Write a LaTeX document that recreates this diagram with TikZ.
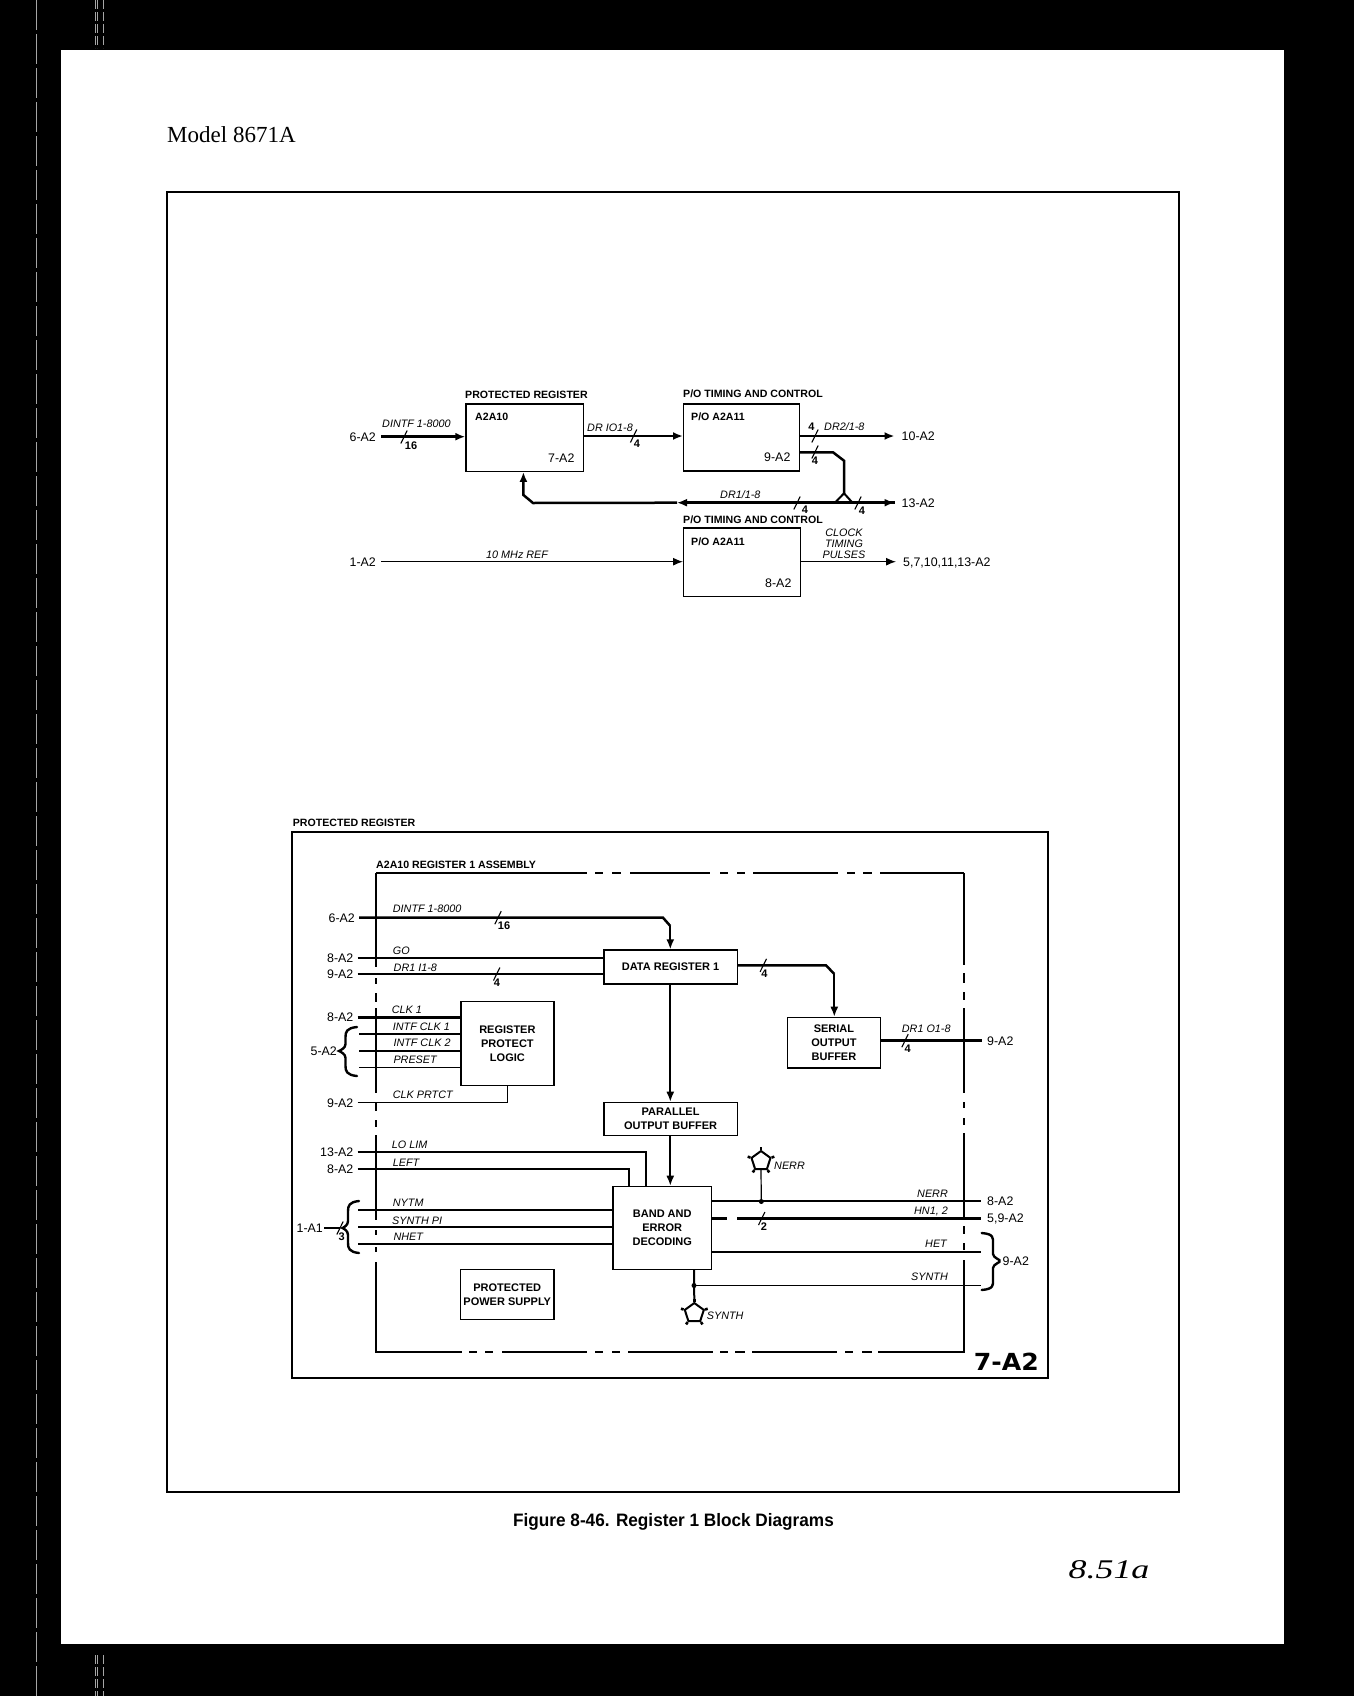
\documentclass[tikz,border=0pt]{standalone}
\usepackage{fontspec}
\setmainfont{Liberation Sans}
\newfontfamily\serifmodel{Liberation Serif}
\newfontfamily\heavyfont{DejaVu Sans}
\usetikzlibrary{arrows.meta,calc,shapes.geometric}
\newcommand{\slashmark}[2]{\draw[line width=1.1pt] (#1-3.2,#2+6.5) -- (#1+3.2,#2-6.5);}
\newcommand{\lbrc}[6]{% right-x, body-x, tip-x, top, mid, bottom
  \draw[line width=2.4pt,line cap=round] (#1,#4) .. controls (#2+1,#4+1) and (#2,#4+5) .. (#2,#4+10)
    -- (#2,#5-7) .. controls (#2,#5-3) and (#3+2,#5-1) .. (#3,#5)
    .. controls (#3+2,#5+1) and (#2,#5+3) .. (#2,#5+7)
    -- (#2,#6-10) .. controls (#2,#6-5) and (#2+1,#6-1) .. (#1,#6);}
\tikzset{
  x=1pt,y=-1pt,
  boxa/.style={draw,line width=1.2pt,fill=white,inner sep=0pt,align=center,anchor=north west,
    font=\fontsize{11}{14}\selectfont\bfseries},
  tagl/.style={inner sep=0pt,text height=8.6pt,text depth=0pt,font=\fontsize{12.4}{12}\selectfont},
  titlab/.style={inner sep=0pt,anchor=west,font=\fontsize{10.6}{11}\selectfont\bfseries},
  lab/.style={inner sep=0pt,anchor=west,text height=7.6pt,text depth=0pt,font=\fontsize{10.8}{11}\selectfont\itshape},
  num/.style={inner sep=0pt,font=\fontsize{11}{11}\selectfont\bfseries},
  wthick/.style={line width=2.5pt},
  wmed/.style={line width=1.8pt},
  wthin/.style={line width=1.2pt},
  tipa/.style={-{Latex[length=10pt,width=8pt]}},
  penta/.style={draw,regular polygon,regular polygon sides=5,minimum size=20pt,inner sep=0pt,line width=2pt},
  dota/.style={circle,fill=black,inner sep=0pt,minimum size=5pt},
}
\begin{document}
\begin{tikzpicture}
\useasboundingbox (0,0) rectangle (1354,1696);
\fill[black] (0,0) rectangle (1354,1696);
\fill[white] (60.5,50.5) rectangle (1283.5,1643.5);
% scan streaks in the margins
\draw[gray!70,line width=.4pt,dash pattern=on 30pt off 4pt] (36,0) -- (36,1696);
\foreach \sx in {95,97,103} {
  \draw[gray!70,line width=.4pt,dash pattern=on 9pt off 3pt] (\sx,0) -- (\sx,48);
  \draw[gray!70,line width=.4pt,dash pattern=on 9pt off 3pt] (\sx,1655) -- (\sx,1696);
}
% page text
\node[inner sep=0pt,anchor=base west,font=\fontsize{23}{23}\selectfont\serifmodel] (model) at (167,143) {Model 8671A};
\node[inner sep=0pt,anchor=center,font=\fontsize{18}{18}\selectfont\bfseries] (caption) at (673.5,1522) {\scalebox{.955}[1]{Figure 8-46. Register 1 Block Diagrams}};
\node[inner sep=0pt,anchor=center,font=\fontsize{27}{27}\selectfont\serifmodel\itshape] (hand) at (1109,1570) {\scalebox{1.33}[1]{8.51a}};
% outer frames
\draw[line width=2pt] (166.5,192) rectangle (1179,1492);
\draw[line width=1.7pt] (292.3,832) rectangle (1047.7,1378);

%%%%%%%%%%%%%%% upper diagram
\node[boxa,minimum width=117.7pt,minimum height=67.4pt] (pr) at (465.3,403.3) {};
\node[boxa,minimum width=116pt,minimum height=67pt] (ta) at (683,403.3) {};
\node[boxa,minimum width=117pt,minimum height=68.7pt] (tb) at (683,527.3) {};
\node[titlab] (t1) at (465,395.3) {PROTECTED REGISTER};
\node[titlab] (t2) at (683,394) {P/O TIMING AND CONTROL};
\node[titlab] (t3) at (683,520) {P/O TIMING AND CONTROL};
\node[titlab] (i1) at (475,416.7) {A2A10};
\node[titlab] (i2) at (691,416.7) {P/O A2A11};
\node[titlab] (i3) at (691,541.7) {P/O A2A11};
\node[tagl,anchor=west] (i4) at (548,457.7) {7-A2};
\node[tagl,anchor=west] (i5) at (764,457.3) {9-A2};
\node[tagl,anchor=west] (i6) at (765,583.3) {8-A2};

\node[tagl,anchor=east] (u6) at (376,436.7) {6-A2};
\node[tagl,anchor=east] (u1) at (376,561.7) {1-A2};
\node[tagl,anchor=west] (u10) at (901.5,436) {10-A2};
\node[tagl,anchor=west] (u13) at (901.5,502.7) {13-A2};
\node[tagl,anchor=west] (u5) at (903,561.7) {5,7,10,11,13-A2};

\draw[wthick,tipa] ([xshift=5pt]u6.east) -- (u6.east -| pr.west);
\draw[wthick,tipa] (pr.east |- u10) -- (u10.west -| ta.west);
\draw[wthick,tipa] (ta.east |- u10) -- ([xshift=-7pt]u10.west);
\coordinate (j0) at (799,452.3);
\coordinate (j1) at (833,452.3);
\coordinate (j2) at (844,460.7);
\coordinate (j3) at (844,493.3);
\coordinate (j4) at (835,502.7);
\coordinate (j5) at (852.5,502.7);
\coordinate (j6) at (533,503);
\coordinate (j7) at (523.4,495);
\draw[wthick] (j0) -- (j1) -- (j2) -- (j3);
\draw[line width=2pt] (j4) -- (j3) -- (j5);
\draw[wthick,tipa] ([xshift=-7pt]u13.west) -- (677,502.7);
\draw[wthick,tipa] (j5) -- ([xshift=-7pt]u13.west);
\draw[wthick,tipa] (677,502.7) -- (j6) -- (j7) -- (j7 |- pr.south);
\draw[wthin,tipa] ([xshift=5pt]u1.east) -- (u1.east -| tb.west);
\draw[wthin,tipa] (tb.east |- u5) -- ([xshift=-7pt]u5.west);

\slashmark{404}{437}
\slashmark{633.6}{436}
\slashmark{815}{436}
\slashmark{815}{452}
\slashmark{797}{503}
\slashmark{858}{503}
\node[num] (n1) at (411,445.7) {16};
\node[num] (n2) at (637,444) {4};
\node[num] (n3) at (811.3,427) {4};
\node[num] (n4) at (815,460.5) {4};
\node[num] (n5) at (805,509.5) {4};
\node[num] (n6) at (862,510.7) {4};
\node[lab] (l1) at (382,423.3) {DINTF 1-8000};
\node[lab] (l2) at (587,427.3) {DR IO1-8};
\node[lab] (l3) at (824,426.7) {DR2/1-8};
\node[lab] (l4) at (720,495) {DR1/1-8};
\node[lab] (l5) at (486,555) {10 MHz REF};
\node[lab,anchor=center] (l6) at (844,532.3) {CLOCK};
\node[lab,anchor=center] (l7) at (844,543.5) {TIMING};
\node[lab,anchor=center] (l8) at (844,554.3) {PULSES};

%%%%%%%%%%%%%%% lower diagram
\node[titlab] (p1) at (292.7,822.7) {PROTECTED REGISTER};
\node[titlab] (p2) at (376,865) {A2A10 REGISTER 1 ASSEMBLY};
% dashed assembly outline
\foreach \aa/\bb in {376/587,595/603,612/621,630/710,720/728,737/745,753/838,847/855,863/872,880/963.7}
  \draw[line width=1.7pt] (\aa,873) -- (\bb,873);
\foreach \aa/\bb in {376/462,469/477,485/493,502/587,595/603,612/620,628/713,720/728,735/745,752/837,845/853,862/872,878/963.7}
  \draw[line width=1.7pt] (\aa,1352) -- (\bb,1352);
\foreach \aa/\bb in {873/967,978/984,993/1002,1008/1093,1103/1111,1120/1127,1135/1220,1230/1235,1247/1252,1262/1352.8}
  \draw[line width=1.7pt] (376,\aa) -- (376,\bb);
\foreach \aa/\bb in {873/965,973/983,992/1000,1008/1093,1102/1108,1118/1125,1133/1218,1226/1234,1243/1250,1260/1352.8}
  \draw[line width=1.7pt] (963.7,\aa) -- (963.7,\bb);

\node[boxa,minimum width=133.4pt,minimum height=34pt] (dr) at (603.3,949.3) {DATA REGISTER 1};
\node[boxa,minimum width=93pt,minimum height=84pt] (rp) at (460.3,1001) {REGISTER\\PROTECT\\LOGIC};
\node[boxa,minimum width=133.4pt,minimum height=33.3pt] (po) at (603.3,1101.7) {PARALLEL\\OUTPUT BUFFER};
\node[boxa,minimum width=98.7pt,minimum height=83pt] (be) at (612.3,1185.7) {BAND AND\\ERROR\\DECODING};
\node[boxa,minimum width=93.3pt,minimum height=50pt] (ps) at (460,1269) {PROTECTED\\POWER SUPPLY};
\node[boxa,minimum width=93.3pt,minimum height=50.6pt] (so) at (786.7,1016.7) {SERIAL\\OUTPUT\\BUFFER};

\node[tagl,anchor=east] (a6) at (355,917.7) {6-A2};
\node[tagl,anchor=east] (a8) at (353.5,957.7) {8-A2};
\node[tagl,anchor=east] (a9) at (353.5,974) {9-A2};
\node[tagl,anchor=east] (b8) at (353.5,1017.3) {8-A2};
\node[tagl,anchor=east] (b5) at (337,1050.7) {5-A2};
\node[tagl,anchor=east] (b9) at (353.5,1102.7) {9-A2};
\node[tagl,anchor=east] (c13) at (353.5,1151.7) {13-A2};
\node[tagl,anchor=east] (c8) at (353.5,1169) {8-A2};
\node[tagl,anchor=east] (c1) at (323,1228) {1-A1};
\node[tagl,anchor=west] (d9) at (987,1040.7) {9-A2};
\node[tagl,anchor=west] (e8) at (987,1201) {8-A2};
\node[tagl,anchor=west] (e5) at (987,1218.5) {5,9-A2};
\node[tagl,anchor=west] (e9) at (1002.5,1261) {9-A2};

\coordinate (s1) at (663,917.7);
\coordinate (s2) at (670.3,926);
\draw[wthick] ([xshift=4pt]a6.east) -- (s1) -- (s2);
\draw[wmed,tipa] (s2) -- (s2 |- dr.north);
\draw[wmed] ([xshift=4pt]a8.east) -- (a8.east -| dr.west);
\draw[wthick] ([xshift=4pt]a9.east) -- (a9.east -| dr.west);
\draw[wthick] ([xshift=4pt]b8.east) -- (b8.east -| rp.west);
\coordinate (y1) at (359,1033.7);
\coordinate (y2) at (359,1050.7);
\coordinate (y3) at (359,1067.7);
\draw[wmed] (y1) -- (y1 -| rp.west);
\draw[wmed] (y2) -- (y2 -| rp.west);
\draw[wthin] (y3) -- (y3 -| rp.west);
\draw[wthin] ([xshift=4pt]b9.east) -| (rp.south);
\draw[wmed,tipa] (dr.south -| s2) -- (po.north -| s2);
\draw[wmed,tipa] (po.south -| s2) -- (be.north -| s2);
\coordinate (lo) at (645.7,1185.7);
\coordinate (le) at (629,1185.7);
\draw[wmed] ([xshift=4pt]c13.east) -| (lo);
\draw[wthin] ([xshift=4pt]c8.east) -| (le);
\coordinate (z1) at (358,1210);
\coordinate (z2) at (358,1227.3);
\coordinate (z3) at (358,1244);
\draw[wmed] (z1) -- (z1 -| be.west);
\draw[wmed] (z2) -- (z2 -| be.west);
\draw[wthin] (z3) -- (z3 -| be.west);
\draw[wthin] ([xshift=1pt]c1.east) -- (340,1228);
\coordinate (q1) at (826,965.3);
\coordinate (q2) at (834.3,974);
\draw[wthick] (dr.east |- q1) -- (q1) -- (q2);
\draw[wmed,tipa] (q2) -- (q2 |- so.north);
\draw[wthick] (so.east |- d9) -- (981.5,1040.7);
\draw[wmed] (be.east |- e8) -- ([xshift=-6pt]e8.west);
\coordinate (gap1) at (727,1218.5);
\coordinate (gap2) at (737,1218.5);
\draw[wthick] (be.east |- e5) -- (gap1);
\draw[wthick] (gap2) -- ([xshift=-6pt]e5.west);
\coordinate (h1) at (981,1251.7);
\coordinate (h2) at (981,1285.5);
\draw[wmed] (be.east |- h1) -- (h1);
\coordinate (h3) at (694,1285.5);
\draw[wmed] (h3) -- (h2);

\node[dota] (dn) at (761.3,1201.5) {};
\node[penta] (pn) at (761,1161) {};
\draw[wthin] (dn) -- (pn.south);
\node[dota] (ds) at (h3) {};
\node[penta] (ps2) at (694.3,1313) {};
\draw[line width=2pt] (ds |- be.south) -- (ps2.north);
\foreach \pp in {pn,ps2} \foreach \cc in {1,...,5}
  \draw[line width=2.6pt] (\pp.corner \cc) -- ($(\pp.center)!1.25!(\pp.corner \cc)$);

\lbrc{357}{345.5}{339}{1027}{1051}{1076}
\lbrc{359}{348}{342.5}{1201}{1228}{1253}
\lbrc{981.7}{993}{999.5}{1233}{1261}{1290}

\slashmark{498}{917.7}
\slashmark{496.7}{974}
\slashmark{763.3}{965.3}
\slashmark{905}{1040.7}
\slashmark{761.7}{1218.5}
\slashmark{340}{1228}
\node[num] (m1) at (504,925.5) {16};
\node[num] (m2) at (497,982.3) {4};
\node[num] (m3) at (764.3,974) {4};
\node[num] (m4) at (907.7,1049) {4};
\node[num] (m5) at (764,1226.7) {2};
\node[num] (m6) at (341.7,1237) {3};

\node[lab] (k1) at (392.7,909) {DINTF 1-8000};
\node[lab] (k2) at (392.7,951) {GO};
\node[lab] (k3) at (393.5,968) {DR1 I1-8};
\node[lab] (k4) at (391.7,1010) {CLK 1};
\node[lab] (k5) at (392.7,1027) {INTF CLK 1};
\node[lab] (k6) at (393.3,1043) {INTF CLK 2};
\node[lab] (k7) at (393.3,1060) {PRESET};
\node[lab] (k8) at (392.7,1095) {CLK PRTCT};
\node[lab] (k9) at (391.7,1145) {LO LIM};
\node[lab] (k10) at (392.7,1162.3) {LEFT};
\node[lab] (k11) at (392.7,1203) {NYTM};
\node[lab] (k12) at (392,1221) {SYNTH PI};
\node[lab] (k13) at (393.3,1237) {NHET};
\node[lab] (k14) at (901.7,1028.7) {DR1 O1-8};
\node[lab,anchor=east] (k15) at (948,1193.7) {NERR};
\node[lab,anchor=east] (k16) at (948,1210.7) {HN1, 2};
\node[lab,anchor=east] (k17) at (947,1244) {HET};
\node[lab,anchor=east] (k18) at (948,1277) {SYNTH};
\node[lab] (k19) at (774,1165.7) {NERR};
\node[lab] (k20) at (706.7,1315.3) {SYNTH};
\node[inner sep=0pt,anchor=east,font=\fontsize{23.5}{24}\selectfont\heavyfont\bfseries] (sheet) at (1039,1361.7) {\scalebox{1.07}[1]{7-A2}};
\end{tikzpicture}
\end{document}
